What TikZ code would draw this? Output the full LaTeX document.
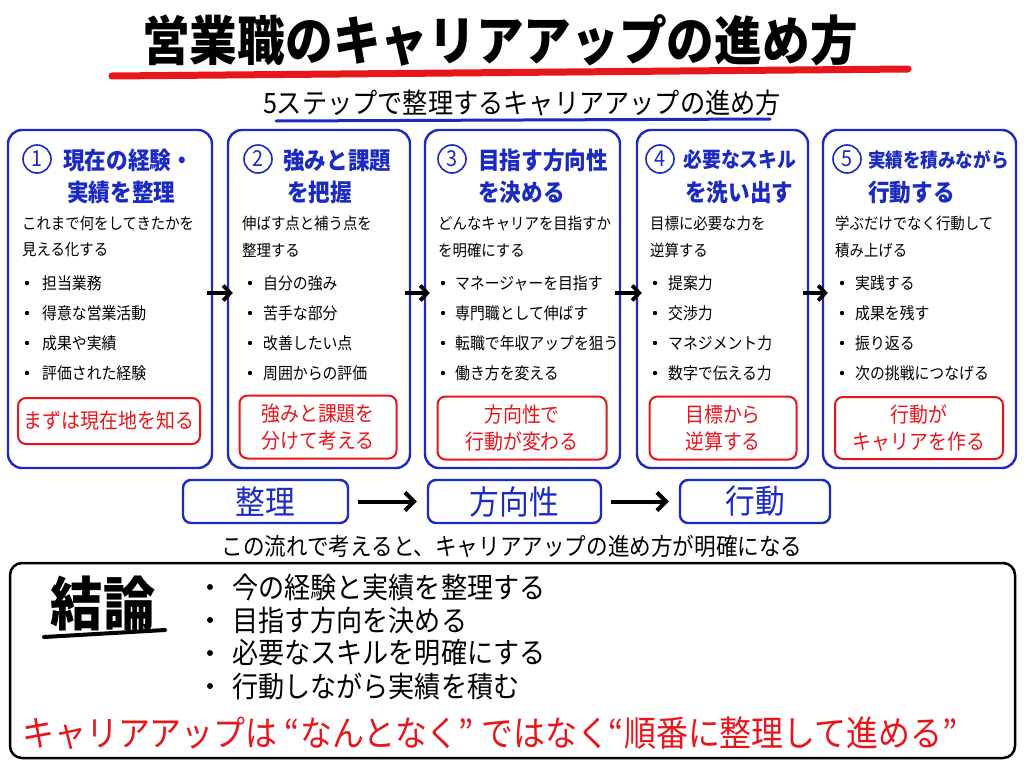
\documentclass[tikz,border=0pt]{standalone}
\usepackage{fontspec}
\setmainfont{Noto Sans CJK JP}[FakeStretch=0.9]
\usetikzlibrary{arrows.meta}
\definecolor{penblue}{RGB}{28,42,196}
\definecolor{penred}{RGB}{232,22,28}
\begin{document}
\begin{tikzpicture}[x=1pt, y=-1pt,
	stepbox/.style={draw=penblue, line width=2.4pt, rounded corners=14pt, minimum height=338pt},
	stepnum/.style={circle, draw=penblue, line width=1.6pt, text=penblue, minimum size=28pt, inner sep=0pt, font=\fontsize{22}{22}\selectfont},
	steptitle/.style={anchor=west, inner sep=0pt, text=penblue, font=\bfseries\fontsize{24}{24}\selectfont},
	desc/.style={anchor=west, inner sep=0pt, font=\fontsize{16}{16}\selectfont},
	itemtext/.style={anchor=west, inner sep=0pt, font=\fontsize{16.5}{16.5}\selectfont},
	keybox/.style={draw=penred, line width=2pt, rounded corners=8pt, text=penred, align=center, font=\fontsize{21}{27}\selectfont},
	flowbox/.style={draw=penblue, line width=2.4pt, rounded corners=8pt, text=penblue, minimum height=43pt, font=\fontsize{33}{33}\selectfont},
	steparr/.style={-{Straight Barb[length=7pt, width=15pt]}, line width=3.8pt},
	flowarr/.style={-{Straight Barb[length=9pt, width=18pt]}, line width=4pt}]
	\fill[white] (0,0) rectangle (1024,768);
	% title
	\node[font=\bfseries\fontsize{53}{53}\selectfont] (title) at (500,40) {営業職のキャリアアップの進め方};
	\draw[penred, line width=7pt, line cap=round] (112,76) -- (908,69);
	\node[font=\fontsize{28}{28}\selectfont] (subtitle) at (522,103) {5ステップで整理するキャリアアップの進め方};
	\draw[penblue, line width=3pt, line cap=round] (276,121) -- (770,119);
	% step boxes
	\node[stepbox, minimum width=204pt] (s1) at (110,299) {};
	\node[stepbox, minimum width=182pt] (s2) at (319,299) {};
	\node[stepbox, minimum width=195pt] (s3) at (522.5,299) {};
	\node[stepbox, minimum width=171pt] (s4) at (722.5,299) {};
	\node[stepbox, minimum width=193pt] (s5) at (919.5,299) {};
	\draw[steparr] ([shift={(-6pt,6pt)}]s1.east) -- ([shift={(6pt,6pt)}]s2.west);
	\draw[steparr] ([shift={(-6pt,6pt)}]s2.east) -- ([shift={(6pt,6pt)}]s3.west);
	\draw[steparr] ([shift={(-6pt,6pt)}]s3.east) -- ([shift={(6pt,6pt)}]s4.west);
	\draw[steparr] ([shift={(-6pt,6pt)}]s4.east) -- ([shift={(6pt,6pt)}]s5.west);
	% step 1
	\node[stepnum] (n1) at (37,159) {1};
	\node[steptitle] (t1a) at (63,160) {現在の経験・};
	\node[steptitle] (t1b) at (67,192) {実績を整理};
	\node[desc] (d1a) at (22,223) {これまで何をしてきたかを};
	\node[desc] (d1b) at (22,250) {見える化する};
	\foreach \t [count=\i] in {担当業務, 得意な営業活動, 成果や実績, 評価された経験} {
		\fill (27,253+30*\i) circle (2.2pt);
		\node[itemtext] (b1-\i) at (42,253+30*\i) {\t};
	}
	\node[keybox, minimum width=182pt, minimum height=46pt] (k1) at (109,421) {まずは現在地を知る};
	% step 2
	\node[stepnum] (n2) at (258,159) {2};
	\node[steptitle] (t2a) at (283,160) {強みと課題};
	\node[steptitle] (t2b) at (287,192) {を把握};
	\node[desc] (d2a) at (242,223) {伸ばす点と補う点を};
	\node[desc] (d2b) at (242,250) {整理する};
	\foreach \t [count=\i] in {自分の強み, 苦手な部分, 改善したい点, 周囲からの評価} {
		\fill (250,253+30*\i) circle (2.2pt);
		\node[itemtext] (b2-\i) at (263,253+30*\i) {\t};
	}
	\node[keybox, minimum width=157pt, minimum height=63pt] (k2) at (318,427) {強みと課題を\\分けて考える};
	% step 3
	\node[stepnum] (n3) at (452,159) {3};
	\node[steptitle] (t3a) at (478,160) {目指す方向性};
	\node[steptitle] (t3b) at (478,192) {を決める};
	\node[desc] (d3a) at (438,223) {どんなキャリアを目指すか};
	\node[desc] (d3b) at (438,250) {を明確にする};
	\foreach \t [count=\i] in {マネージャーを目指す, 専門職として伸ばす, 転職で年収アップを狙う, 働き方を変える} {
		\fill (443,253+30*\i) circle (2.2pt);
		\node[itemtext] (b3-\i) at (455,253+30*\i) {\t};
	}
	\node[keybox, minimum width=169pt, minimum height=63pt] (k3) at (522,428) {方向性で\\行動が変わる};
	% step 4
	\node[stepnum] (n4) at (660,159) {4};
	\node[steptitle, font=\bfseries\fontsize{21}{21}\selectfont] (t4a) at (683,160) {必要なスキル};
	\node[steptitle] (t4b) at (685,192) {を洗い出す};
	\node[desc] (d4a) at (650,223) {目標に必要な力を};
	\node[desc] (d4b) at (650,250) {逆算する};
	\foreach \t [count=\i] in {提案力, 交渉力, マネジメント力, 数字で伝える力} {
		\fill (655,253+30*\i) circle (2.2pt);
		\node[itemtext] (b4-\i) at (668,253+30*\i) {\t};
	}
	\node[keybox, minimum width=147pt, minimum height=63pt] (k4) at (723,428) {目標から\\逆算する};
	% step 5
	\node[stepnum] (n5) at (847,159) {5};
	\node[steptitle, font=\bfseries\fontsize{19.5}{19.5}\selectfont] (t5a) at (868,160) {実績を積みながら};
	\node[steptitle] (t5b) at (868,192) {行動する};
	\node[desc] (d5a) at (835,223) {学ぶだけでなく行動して};
	\node[desc] (d5b) at (835,250) {積み上げる};
	\foreach \t [count=\i] in {実践する, 成果を残す, 振り返る, 次の挑戦につなげる} {
		\fill (842,253+30*\i) circle (2.2pt);
		\node[itemtext] (b5-\i) at (855,253+30*\i) {\t};
	}
	\node[keybox, minimum width=168pt, minimum height=62pt] (k5) at (919,428) {行動が\\キャリアを作る};
	% flow
	\node[flowbox, minimum width=165pt] (f1) at (265.5,501.5) {整理};
	\node[flowbox, minimum width=173pt] (f2) at (514.5,501.5) {方向性};
	\node[flowbox, minimum width=150pt] (f3) at (755,501.5) {行動};
	\draw[flowarr] ([xshift=9pt]f1.east) -- ([xshift=-10pt]f2.west);
	\draw[flowarr] ([xshift=9pt]f2.east) -- ([xshift=-10pt]f3.west);
	\node[font=\fontsize{24}{24}\selectfont] (cap) at (512,546) {この流れで考えると、キャリアアップの進め方が明確になる};
	% conclusion
	\node[draw, line width=2.5pt, rounded corners=12pt, minimum width=1005pt, minimum height=195pt] (cbox) at (512.5,660.5) {};
	\node[font=\bfseries\fontsize{58}{58}\selectfont] (ketsu) at (103,603) {結論};
	\draw[line width=4pt, line cap=round] (44,637) -- (165,630);
	\foreach \t [count=\i] in {今の経験と実績を整理する, 目指す方向を決める, 必要なスキルを明確にする, 行動しながら実績を積む} {
		\fill (210,554+33*\i) circle (3pt);
		\node[anchor=west, inner sep=0pt, font=\fontsize{29}{29}\selectfont] (c-\i) at (232,554+33*\i) {\t};
	}
	\node[anchor=west, inner sep=0pt, text=penred, font=\fontsize{35.5}{35.5}\selectfont] (last) at (22,733) {キャリアアップは “なんとなく” ではなく“順番に整理して進める”};
\end{tikzpicture}
\end{document}
